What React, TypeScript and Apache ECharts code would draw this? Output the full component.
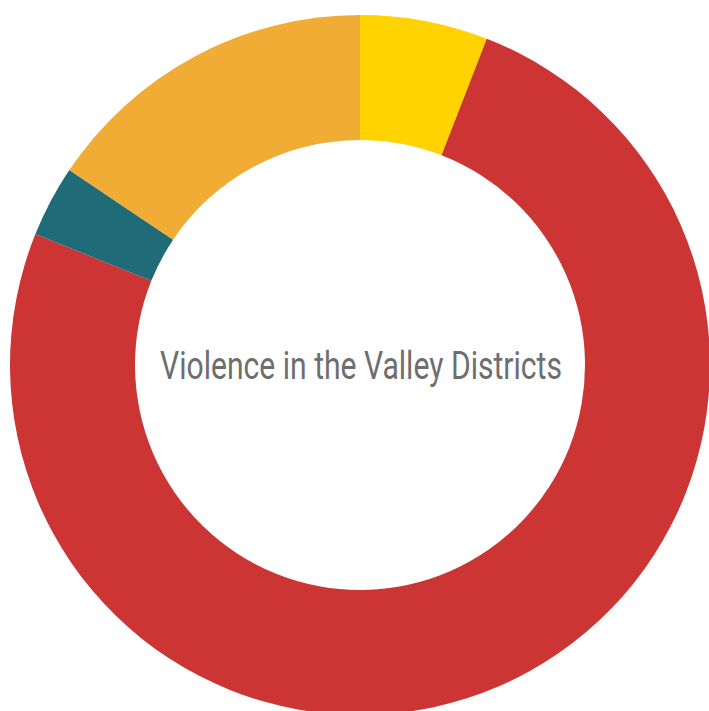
import React, { useEffect, useRef } from "react";
import * as echarts from "echarts";

const categories = ["Yellow", "Red", "Teal", "Orange"];
const values = [5.9, 75.2, 3.3, 15.6];
const colors = ["#FFD200", "#CC3534", "#1F6B78", "#F0AC35"];
const titleText = "Violence in the Valley Districts";

const FONT_FAMILY = "Roboto";
const FONT_SIZE = 38;
const TARGET_WIDTH = 402;

function measure(text: string): number {
  const c = document.createElement("canvas");
  const ctx = c.getContext("2d");
  if (!ctx) return TARGET_WIDTH;
  ctx.font = `${FONT_SIZE}px ${FONT_FAMILY}`;
  return ctx.measureText(text).width;
}

export default function App() {
  const ref = useRef<HTMLDivElement>(null);
  useEffect(() => {
    if (!ref.current) return;
    const chart = echarts.init(ref.current, undefined, { renderer: "svg" });
    const w = measure(titleText);
    const sx = TARGET_WIDTH / w;
    chart.setOption({
      animation: false,
      backgroundColor: "#ffffff",
      graphic: [
        {
          type: "text",
          z: 100,
          x: 361,
          y: 366,
          scaleX: sx,
          style: {
            text: titleText,
            x: 0,
            y: 0,
            align: "center",
            verticalAlign: "middle",
            fontFamily: FONT_FAMILY,
            fontSize: FONT_SIZE,
            fill: "#6e6e6e",
          },
        },
      ],
      series: [
        {
          type: "pie",
          center: [360, 365],
          radius: [225, 350],
          startAngle: 90,
          clockwise: true,
          label: { show: false },
          labelLine: { show: false },
          silent: true,
          itemStyle: { borderWidth: 0 },
          data: categories.map((c, i) => ({
            name: c,
            value: values[i],
            itemStyle: { color: colors[i] },
          })),
        },
      ],
    });
    return () => chart.dispose();
  }, []);
  return (
    <div
      ref={ref}
      style={{ position: "fixed", left: 0, top: 0, width: 709, height: 711 }}
    />
  );
}
